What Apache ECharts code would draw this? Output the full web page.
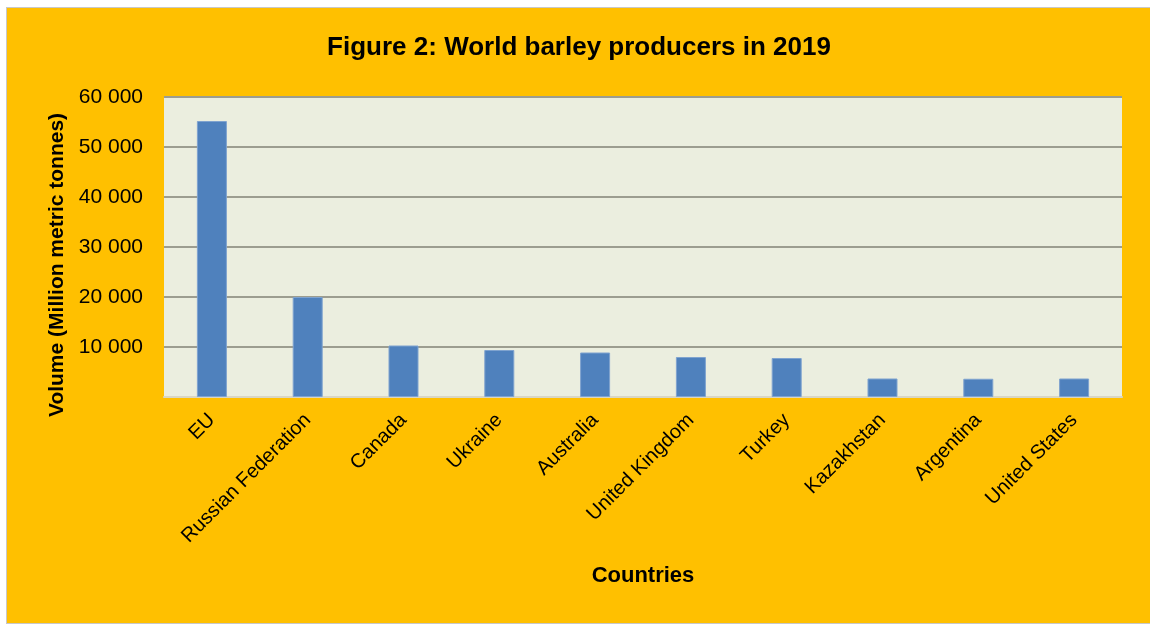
<!DOCTYPE html>
<html>
<head>
<meta charset="utf-8">
<title>World barley producers in 2019</title>
<script src="https://cdn.jsdelivr.net/npm/echarts@6/dist/echarts.min.js"></script>
<style>
  html, body { margin: 0; padding: 0; background: #fff; }
  #chart {
    position: absolute; left: 6px; top: 7px;
    width: 1144px; height: 615px;
    border-top: 1px solid #c8c8c8; border-left: 1px solid #c8c8c8; border-bottom: 1px solid #c8c8c8;
  }
</style>
</head>
<body>
<div id="chart"></div>
<script>
// barley production 2019, thousand tonnes (axis says million)
const countries = ['EU', 'Russian Federation', 'Canada', 'Ukraine', 'Australia',
  'United Kingdom', 'Turkey', 'Kazakhstan', 'Argentina', 'United States'];
const volumes = [55200, 20000, 10300, 9400, 8900, 8000, 7800, 3700, 3650, 3700];
const yTicks = [0, 10000, 20000, 30000, 40000, 50000, 60000];

const SANS = '"Liberation Sans", Arial, sans-serif';

function fmt(v) {
  if (v === 0) return '';
  return String(v).replace(/\B(?=(\d{3})+(?!\d))/g, ' ');
}

const chart = echarts.init(document.getElementById('chart'));

chart.setOption({
  backgroundColor: '#FFC000',
  animation: false,
  title: {
    text: 'Figure 2: World barley producers in 2019',
    left: 'center',
    top: 22,
    textStyle: { fontFamily: SANS, fontSize: 26, fontWeight: 'bold', color: '#000' }
  },
  grid: {
    left: 157, top: 89, right: 29, bottom: 226,
    show: true, backgroundColor: '#EBEEDF', borderWidth: 0
  },
  xAxis: {
    type: 'category',
    data: countries,
    name: 'Countries',
    nameLocation: 'middle',
    nameGap: 168,
    nameTextStyle: { fontFamily: SANS, fontSize: 22, fontWeight: 'bold', color: '#000' },
    axisLine: { lineStyle: { color: '#d9d6c4', width: 2 } },
    axisTick: { show: false },
    axisLabel: {
      rotate: 45, margin: 20, interval: 0,
      fontFamily: SANS, fontSize: 20, color: '#000'
    }
  },
  yAxis: {
    type: 'value',
    min: yTicks[0],
    max: yTicks[yTicks.length - 1],
    interval: yTicks[1] - yTicks[0],
    name: 'Volume (Million metric tonnes)',
    nameLocation: 'middle',
    nameGap: 94,
    nameTextStyle: { fontFamily: SANS, fontSize: 21, fontWeight: 'bold', color: '#000', padding: [0, 36, 0, 0] },
    axisLine: { show: false },
    axisTick: { show: false },
    axisLabel: {
      margin: 21, formatter: fmt,
      fontFamily: SANS, fontSize: 21, color: '#000'
    },
    splitLine: { lineStyle: { color: '#9c9d90', width: 2 } }
  },
  series: [{
    type: 'bar',
    data: volumes,
    barWidth: 30,
    itemStyle: { color: '#4F81BD', borderColor: '#7fa3cf', borderWidth: 1 }
  }]
});
</script>
</body>
</html>
